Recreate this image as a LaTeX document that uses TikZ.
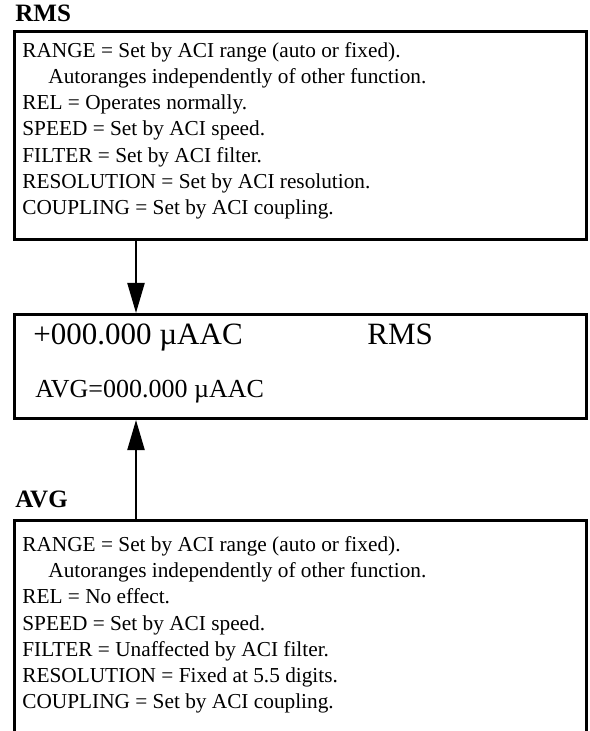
\documentclass[tikz,border=0pt]{standalone}
\usepackage{fontspec}
\setmainfont{Liberation Serif}
\usetikzlibrary{arrows.meta}
\tikzset{
  panel/.style={draw,line width=1.5pt,minimum width=286pt,anchor=north west,inner sep=0pt},
  flow/.style={line width=1.1pt,-{Triangle[length=15pt,width=8.5pt]}},
  heading/.style={anchor=base west,inner sep=0pt,font=\fontsize{12.5}{15}\selectfont\bfseries},
  notes/.style={anchor=north west,inner sep=0pt,align=left,font=\fontsize{10.65}{13.1}\selectfont},
  readout/.style={anchor=base west,inner sep=0pt},
}
\begin{document}
\begin{tikzpicture}[x=0.5pt,y=-0.5pt]
  \useasboundingbox (0,0) rectangle (589,731);
  \clip (0,0) rectangle (589,731);
  % RMS settings
  \node[heading] (rmstitle) at (15,22) {RMS};
  \node[panel,minimum height=104pt] (rmsbox) at (13,30) {};
  \node[notes] (rmsnotes) at (22,42) {RANGE = Set by ACI range (auto or fixed).\\
    \hspace*{13pt}Autoranges independently of other function.\\
    REL = Operates normally.\\
    SPEED = Set by ACI speed.\\
    FILTER = Set by ACI filter.\\
    RESOLUTION = Set by ACI resolution.\\
    COUPLING = Set by ACI coupling.};
  % display
  \node[panel,minimum height=52pt] (dispbox) at (13,313) {};
  \node[readout,font=\fontsize{15.5}{18}\selectfont] (mainval) at (33,344) {+000.000 µAAC};
  \node[readout,font=\fontsize{15.5}{18}\selectfont] (rmsflag) at (367,344) {RMS};
  \node[readout,font=\fontsize{13}{16}\selectfont] (avgval) at (35,397) {AVG=000.000 µAAC};
  % AVG settings
  \node[heading] (avgtitle) at (15,507) {AVG};
  \node[panel,minimum height=116pt] (avgbox) at (13,519) {};
  \node[notes] (avgnotes) at (22,536) {RANGE = Set by ACI range (auto or fixed).\\
    \hspace*{13pt}Autoranges independently of other function.\\
    REL = No effect.\\
    SPEED = Set by ACI speed.\\
    FILTER = Unaffected by ACI filter.\\
    RESOLUTION = Fixed at 5.5 digits.\\
    COUPLING = Set by ACI coupling.};
  \draw[flow] ([xshift=61.5pt]rmsbox.south west) -- ([xshift=61.5pt]dispbox.north west);
  \draw[flow] ([xshift=61.5pt]avgbox.north west) -- ([xshift=61.5pt]dispbox.south west);
\end{tikzpicture}
\end{document}
